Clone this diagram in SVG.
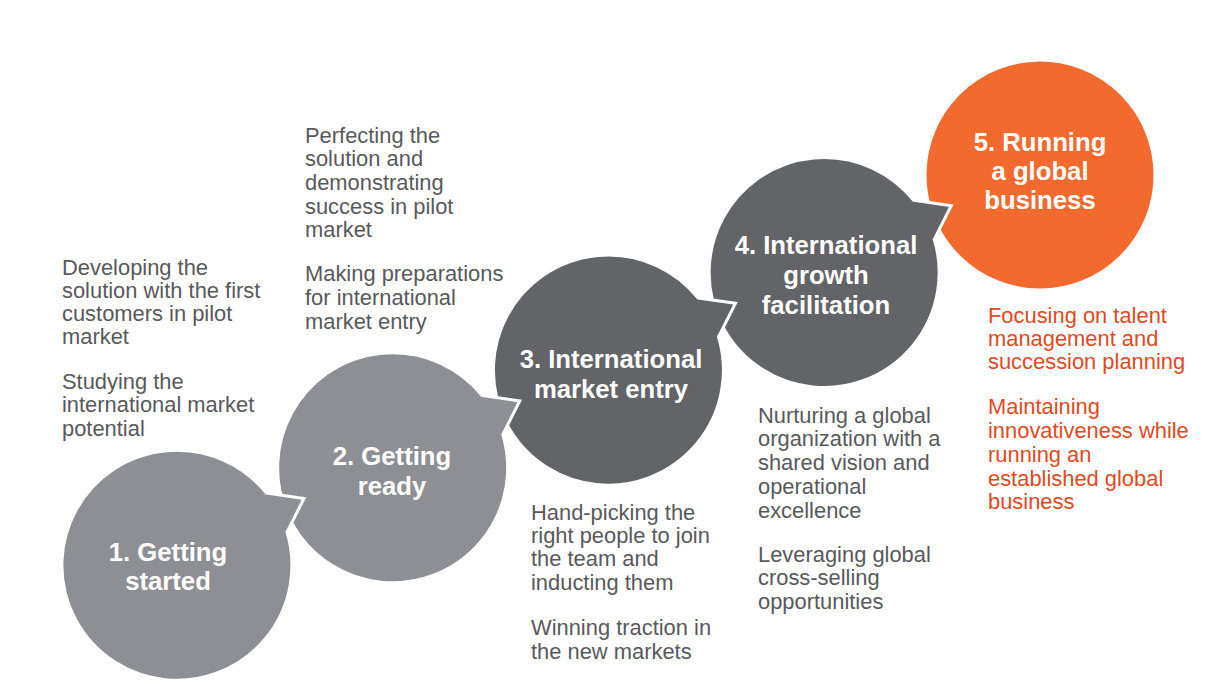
<svg xmlns="http://www.w3.org/2000/svg" width="1216" height="700" viewBox="0 0 1216 700">
<style>
.bubble{stroke:#ffffff;stroke-width:3;stroke-linejoin:miter}
.light{fill:#8e8f94}
.dark{fill:#636468}
.orange{fill:#f26a2e}
.lbl{font-family:"Liberation Sans",Arial,sans-serif;font-weight:bold;font-size:25.7px;fill:#ffffff;text-anchor:middle}
.body{font-family:"Liberation Sans",Arial,sans-serif;font-size:21.9px;fill:#58595b}
.obody{font-family:"Liberation Sans",Arial,sans-serif;font-size:21.9px;fill:#e04a22}
</style>
<defs>
<path id="bub" d="M 89.4,-72.4 L 127,-67 L 110,-33.4 A 115 115 0 1 1 89.4,-72.4 Z"/>
</defs>
<rect width="1216" height="700" fill="#ffffff"/>
<g id="connectors"></g>
<g id="node5">
<circle class="bubble orange" cx="1040" cy="175" r="115"/>
<text class="lbl"><tspan x="1040" y="151">5. Running</tspan><tspan x="1040" y="180">a global</tspan><tspan x="1040" y="209">business</tspan></text>
</g>
<g id="node4">
<use href="#bub" class="bubble dark" transform="translate(824.25,272.7)"/>
<text class="lbl"><tspan x="826" y="254">4. International</tspan><tspan x="826" y="284">growth</tspan><tspan x="826" y="314">facilitation</tspan></text>
</g>
<g id="node3">
<use href="#bub" class="bubble dark" transform="translate(608.5,370.3)"/>
<text class="lbl"><tspan x="611" y="368">3. International</tspan><tspan x="611" y="398">market entry</tspan></text>
</g>
<g id="node2">
<use href="#bub" class="bubble light" transform="translate(392.75,468)"/>
<text class="lbl"><tspan x="392" y="465">2. Getting</tspan><tspan x="392" y="495">ready</tspan></text>
</g>
<g id="node1">
<use href="#bub" class="bubble light" transform="translate(177,565.5)"/>
<text class="lbl"><tspan x="168" y="561">1. Getting</tspan><tspan x="168" y="590">started</tspan></text>
</g>
<g id="text1">
<text class="body"><tspan x="62" y="275">Developing the</tspan><tspan x="62" y="298">solution with the first</tspan><tspan x="62" y="321">customers in pilot</tspan><tspan x="62" y="344">market</tspan><tspan x="62" y="389">Studying the</tspan><tspan x="62" y="412">international market</tspan><tspan x="62" y="436">potential</tspan></text>
</g>
<g id="text2">
<text class="body"><tspan x="305" y="143">Perfecting the</tspan><tspan x="305" y="166">solution and</tspan><tspan x="305" y="190">demonstrating</tspan><tspan x="305" y="214">success in pilot</tspan><tspan x="305" y="237">market</tspan><tspan x="305" y="281">Making preparations</tspan><tspan x="305" y="305">for international</tspan><tspan x="305" y="329">market entry</tspan></text>
</g>
<g id="text3">
<text class="body"><tspan x="531" y="520">Hand-picking the</tspan><tspan x="531" y="543">right people to join</tspan><tspan x="531" y="566">the team and</tspan><tspan x="531" y="590">inducting them</tspan><tspan x="531" y="635">Winning traction in</tspan><tspan x="531" y="659">the new markets</tspan></text>
</g>
<g id="text4">
<text class="body"><tspan x="758" y="423">Nurturing a global</tspan><tspan x="758" y="446">organization with a</tspan><tspan x="758" y="470">shared vision and</tspan><tspan x="758" y="494">operational</tspan><tspan x="758" y="518">excellence</tspan><tspan x="758" y="562">Leveraging global</tspan><tspan x="758" y="585">cross-selling</tspan><tspan x="758" y="609">opportunities</tspan></text>
</g>
<g id="text5">
<text class="obody"><tspan x="988" y="323">Focusing on talent</tspan><tspan x="988" y="346">management and</tspan><tspan x="988" y="369">succession planning</tspan><tspan x="988" y="414">Maintaining</tspan><tspan x="988" y="438">innovativeness while</tspan><tspan x="988" y="462">running an</tspan><tspan x="988" y="486">established global</tspan><tspan x="988" y="509">business</tspan></text>
</g>
</svg>
